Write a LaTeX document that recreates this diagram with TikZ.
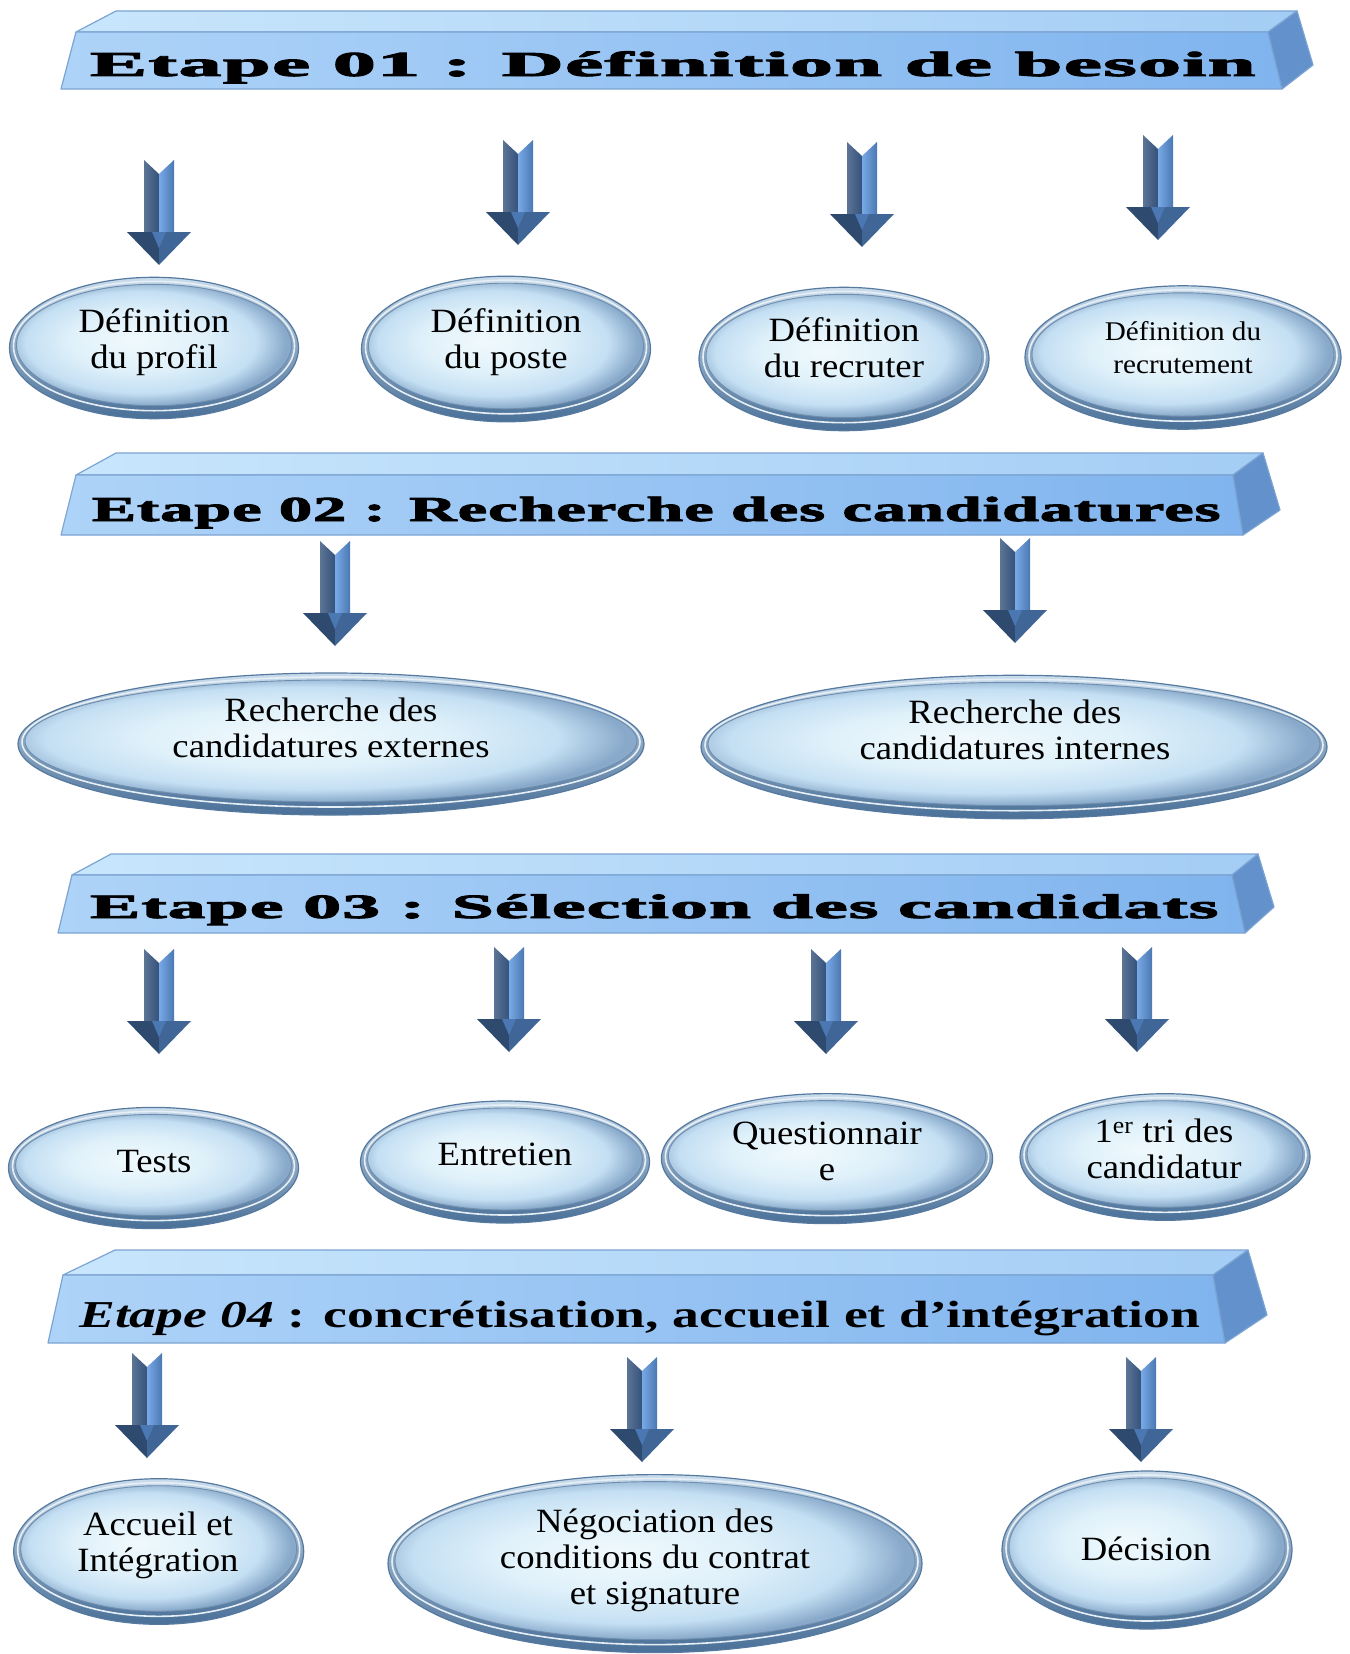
\documentclass[tikz,border=0pt]{standalone}
\usepackage{fontspec}
\usepackage{graphicx}
\setmainfont{Liberation Serif}
\newfontfamily\ellfont{Liberation Serif}[FakeStretch=1.08]
\newfontfamily\banfont{Liberation Serif}[LetterSpace=2,FakeBold=2.5]
\usetikzlibrary{shapes.geometric}

\definecolor{bandL}{HTML}{AED3F8}
\definecolor{bandR}{HTML}{80B4EE}
\definecolor{bandTopL}{HTML}{C8E6FC}
\definecolor{bandTopR}{HTML}{A4CDF5}
\definecolor{bandEnd}{HTML}{6391CC}
\definecolor{bandEdge}{HTML}{7CA4D2}
\definecolor{ringTop}{HTML}{C9DCEC}
\definecolor{ringBot}{HTML}{4A7098}
\definecolor{ringEdge}{HTML}{56799F}
\definecolor{gA}{HTML}{F0F9FD}
\definecolor{gB}{HTML}{E0F1FA}
\definecolor{gC}{HTML}{C4DFF3}
\definecolor{gD}{HTML}{88A9CA}
\definecolor{arDark}{HTML}{34527B}
\definecolor{arMid}{HTML}{4B78B2}
\definecolor{arLight}{HTML}{78A9E6}

\pgfdeclareradialshading{glass}{\pgfpoint{-4bp}{2bp}}{color(0bp)=(gA); color(12bp)=(gB); color(21bp)=(gC); color(26bp)=(gD); color(50bp)=(gD)}

\tikzset{
  ringnode/.style={ellipse, inner sep=0pt, top color=ringTop, bottom color=ringBot, draw=ringEdge, line width=1.2pt},
  etext/.style={font=\ellfont\fontsize{34}{36}\selectfont, align=center, text=black, inner sep=0pt},
  esmall/.style={font=\ellfont\fontsize{27}{33}\selectfont, align=center, text=black, inner sep=0pt},
  bantext/.style={anchor=base west, inner sep=0pt, text=black},
  bandtop/.style={left color=bandTopL, right color=bandTopR, draw=bandEdge, line width=1.2pt, line join=round},
  bandfront/.style={left color=bandL, right color=bandR, draw=bandEdge, line width=1.2pt, line join=round},
  bandend/.style={fill=bandEnd, draw=bandEdge, line width=1.2pt, line join=round},
  downarr/.pic={
    \shade[left color=arDark!80!white, right color=arDark] (-15,0)--(0,14)--(0,72)--(-15,72)--cycle;
    \shade[left color=arLight, right color=arMid] (0,14)--(15,0)--(15,72)--(0,72)--cycle;
    \fill[arDark!90!black] (-32,72)--(0,72)--(0,105)--cycle;
    \fill[arMid!85!black] (0,72)--(32,72)--(0,105)--cycle;
    \fill[arMid] (-7,72)--(7,72)--(0,88)--cycle;
  }
}

\newcommand\glossy[5]{%
  \node[ringnode, minimum width=2*#4pt, minimum height=2*#5pt] (#1) at (#2,#3) {};
  \draw[white!55!ringTop, line width=1.6pt] ([yshift=2pt]#1.center) ellipse ({#4-4} and {#5-6});
  \shade[shading=glass, draw=ringEdge!85, line width=0.9pt] ([yshift=3pt]#1.center) ellipse ({#4-7} and {#5-10});
}

\begin{document}
\begin{tikzpicture}[x=1pt,y=-1pt]
\useasboundingbox (0,0) rectangle (1349,1654);
\fill[white] (0,0) rectangle (1349,1654);

% ---------- Banner 1
\shade[bandtop] (116,11)--(1297,11)--(1268,32)--(76,32)--cycle;
\shade[bandfront] (76,32)--(1268,32)--(1282,89)--(61,89)--cycle;
\path[bandend] (1268,32)--(1297,11)--(1313,65)--(1282,89)--cycle;
\node[bantext] (b1) at (90,76) {\resizebox{1165pt}{\height}{\banfont\fontsize{35}{40}\selectfont\bfseries Etape 01 : Définition de besoin}};

% ---------- Banner 2
\shade[bandtop] (116,453)--(1263,453)--(1233,475)--(76,475)--cycle;
\shade[bandfront] (76,475)--(1233,475)--(1243,535)--(61,535)--cycle;
\path[bandend] (1233,475)--(1263,453)--(1280,510)--(1243,535)--cycle;
\node[bantext] (b2) at (92,521) {\resizebox{1128pt}{\height}{\banfont\fontsize{35}{40}\selectfont\bfseries Etape 02 : Recherche des candidatures}};

% ---------- Banner 3
\shade[bandtop] (111,854)--(1258,854)--(1232,875)--(72,875)--cycle;
\shade[bandfront] (72,875)--(1232,875)--(1245,933)--(58,933)--cycle;
\path[bandend] (1232,875)--(1258,854)--(1274,907)--(1245,933)--cycle;
\node[bantext] (b3) at (90,918) {\resizebox{1128pt}{\height}{\banfont\fontsize{34}{40}\selectfont\bfseries Etape 03 : Sélection des candidats}};

% ---------- Banner 4
\shade[bandtop] (115,1250)--(1248,1250)--(1213,1275)--(63,1275)--cycle;
\shade[bandfront] (63,1275)--(1213,1275)--(1225,1343)--(48,1343)--cycle;
\path[bandend] (1213,1275)--(1248,1250)--(1267,1315)--(1225,1343)--cycle;
\node[bantext] (b4) at (79,1327) {\resizebox{1121pt}{\height}{\fontsize{38}{44}\selectfont\bfseries\itshape Etape 04\upshape{} : concrétisation, accueil et d’intégration}};

% ---------- Arrows
\pic (a11) at (159,160) {downarr};
\pic (a12) at (518,140) {downarr};
\pic (a13) at (862,142) {downarr};
\pic (a14) at (1158,135) {downarr};
\pic (a21) at (335,541) {downarr};
\pic (a22) at (1015,538) {downarr};
\pic (a31) at (159,949) {downarr};
\pic (a32) at (509,947) {downarr};
\pic (a33) at (826,949) {downarr};
\pic (a34) at (1137,947) {downarr};
\pic (a41) at (147,1353) {downarr};
\pic (a42) at (642,1357) {downarr};
\pic (a43) at (1141,1357) {downarr};

% ---------- Ellipses
\glossy{e1}{154}{348}{144.5}{70.7}
\glossy{e2}{506}{349}{144.5}{72.8}
\glossy{e3}{844}{359}{145}{71.7}
\glossy{e4}{1183}{357.5}{158}{71.7}
\glossy{e5}{331}{744}{313}{71}
\glossy{e6}{1014}{747}{313}{71.7}
\glossy{e7}{153.5}{1168}{145}{60.6}
\glossy{e8}{505}{1162}{144.5}{61}
\glossy{e9}{827}{1158.6}{165.6}{65}
\glossy{e10}{1165}{1157}{145}{63.3}
\glossy{e11}{158.7}{1551.5}{145}{72.8}
\glossy{e12}{655}{1563.6}{267}{89}
\glossy{e13}{1147}{1550}{145}{79}

% ---------- Texts
\node[etext] (t1) at (154,342.6) {Définition\\du profil};
\node[etext] (t2) at (506,342.6) {Définition\\du poste};
\node[etext] (t3) at (844,348) {Définition\\du recruter};
\node[esmall] (t4) at (1183,348) {Définition du\\recrutement};
\node[etext] (t5) at (331,728) {Recherche des\\candidatures externes};
\node[etext] (t6) at (1015,730) {Recherche des\\candidatures internes};
\node[etext] (t7) at (154,1162) {Tests};
\node[etext] (t8) at (505,1154) {Entretien};
\node[etext] (t9) at (827,1151) {Questionnair\\e};
\node[etext] (t10) at (1164,1148.5) {1\textsuperscript{er} tri des\\candidatur};
\node[etext] (t11) at (158,1545) {Accueil et\\Intégration};
\node[etext] (t12) at (655,1560) {Négociation des\\conditions du contrat\\et signature};
\node[etext] (t13) at (1146,1549) {Décision};
\end{tikzpicture}
\end{document}
